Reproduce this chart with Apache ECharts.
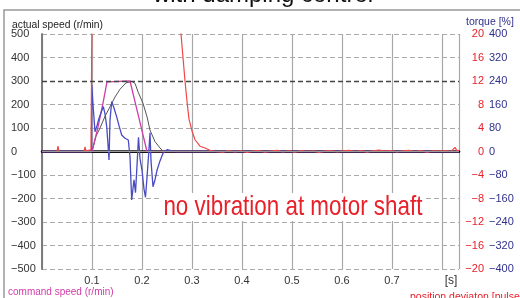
<!DOCTYPE html>
<html>
<head>
<meta charset="utf-8">
<script src="https://cdn.jsdelivr.net/npm/echarts@6/dist/echarts.min.js"></script>
<style>
  html, body {margin:0; padding:0; background:#fff;}
  #myChart {width:520px; height:298px;}
</style>
</head>
<body>
<div id="myChart"></div>
<script type="text/javascript">
  // [time s, r/min]
  var commandSpeed = [
    [0, 0], [0.1, 0], [0.112, 104], [0.122, 206], [0.13, 296], [0.132, 300],
    [0.176, 300], [0.192, 159], [0.21, 0], [0.834, 0]
  ]
  // [time s, r/min]
  var actualSpeed = [
    [0, 0], [0.1, 0], [0.108, 65], [0.116, 100], [0.126, 150], [0.136, 190],
    [0.146, 232], [0.156, 265], [0.168, 292], [0.18, 298], [0.186, 290],
    [0.192, 254], [0.202, 205], [0.21, 148], [0.216, 91], [0.226, 42],
    [0.236, 15], [0.242, 2], [0.25, 0], [0.834, 0]
  ]
  // [time s, torque %]
  var torque = [
    [0, 0], [0.099, 0], [0.0996, 226], [0.102, 160], [0.106, 67], [0.11, 88],
    [0.113, 107], [0.118, 132], [0.1226, 153], [0.126, 128], [0.1294, 85],
    [0.132, 24], [0.134, -29], [0.136, 107], [0.1394, 170], [0.144, 148],
    [0.1494, 118], [0.154, 88], [0.1594, 56], [0.166, 45], [0.1726, 39],
    [0.176, -18], [0.1794, -165], [0.184, -96], [0.187, -140], [0.19, -48],
    [0.193, 48], [0.196, -24], [0.2, -64], [0.204, -128], [0.207, -156],
    [0.21, -88], [0.213, -16], [0.216, 64], [0.218, -32], [0.222, -120],
    [0.226, -96], [0.23, -64], [0.236, -32], [0.242, -6], [0.25, 6],
    [0.26, 2], [0.268, 0], [0.834, 0]
  ]
  // [time s, pulse]
  var posDeviation = [
    [0, 0], [0.03, 0], [0.032, 0.9], [0.034, 0], [0.084, 0], [0.086, 0.8],
    [0.088, 0.1], [0.098, 0.3], [0.0995, 0.5], [0.1005, 30], [0.27, 30],
    [0.274, 24], [0.278, 20], [0.282, 16], [0.286, 12], [0.29, 8.5],
    [0.294, 5.5], [0.3, 3.5], [0.306, 2], [0.316, 0.9], [0.326, 0.6],
    [0.336, 0.2], [0.346, 0], [0.35, 0.1], [0.362, -0.1], [0.374, 0.15],
    [0.386, -0.05], [0.398, 0.1], [0.41, -0.15], [0.422, 0.05], [0.434, 0.15],
    [0.446, -0.1], [0.458, 0.05], [0.47, 0.2], [0.482, -0.05], [0.494, 0.1],
    [0.506, -0.1], [0.518, 0.15], [0.53, 0], [0.542, 0.1], [0.554, -0.15],
    [0.566, 0.05], [0.578, 0.15], [0.59, -0.05], [0.602, 0.1], [0.614, 0.2],
    [0.626, 0], [0.638, 0.15], [0.65, -0.1], [0.662, 0.1], [0.674, 0.25],
    [0.686, 0.05], [0.698, 0.15], [0.71, -0.05], [0.722, 0.1], [0.734, 0.2],
    [0.746, 0], [0.758, 0.15], [0.77, -0.1], [0.782, 0.1], [0.794, 0.05],
    [0.806, 0.15], [0.818, 0], [0.826, 0.7], [0.83, 0.1], [0.834, 0.2]
  ]

  var FONT = '"Liberation Sans", Arial, sans-serif'
  var RED = '#e8202a', BLUE = '#30308c', MAG = '#d03ca8'

  function minus (v) { return String(v).replace('-', '\u2212') }

  var myChart = echarts.init(document.getElementById('myChart'))
  myChart.setOption({
    animation: false,
    textStyle: {fontFamily: FONT},
    grid: {left: 42, right: 61, top: 34, bottom: 29},
    xAxis: [{
      type: 'value', min: 0, max: 0.834, interval: 0.1,
      axisLine: {lineStyle: {color: '#111', width: 2}},
      axisTick: {show: false},
      splitLine: {show: true, lineStyle: {color: '#a8a8a8', width: 1.2}},
      axisLabel: {
        color: '#333', fontSize: 11, margin: 6,
        showMinLabel: false, showMaxLabel: false,
        formatter: function (v) {
          if (Math.abs(v - 0.8) < 1e-6) return '{s|[s]}'
          if (v < 0.05 || v > 0.81) return ''
          return v.toFixed(1)
        },
        rich: {s: {fontSize: 12, color: '#333', padding: [0, 0, 3, 18]}}
      }
    }, {
      // top line of frame
      type: 'value', position: 'top', min: 0, max: 0.834,
      axisLine: {lineStyle: {color: '#111', width: 2.5}},
      axisTick: {show: false}, axisLabel: {show: false}, splitLine: {show: false}
    }],
    yAxis: [{
      type: 'value', min: -500, max: 500, interval: 100,
      axisLine: {show: true, lineStyle: {color: '#333', width: 1.5}},
      axisTick: {show: false},
      splitLine: {lineStyle: {color: '#aaa', type: [5, 3]}},
      axisLabel: {color: '#333', fontSize: 11, align: 'left', margin: 31, formatter: minus}
    }, {
      type: 'value', position: 'right', min: -20, max: 20, interval: 4,
      axisLine: {show: true, lineStyle: {color: '#888', width: 1.5}},
      axisTick: {show: false}, splitLine: {show: false},
      axisLabel: {color: RED, fontSize: 11, align: 'right', margin: 25, formatter: minus}
    }, {
      type: 'value', position: 'right', min: -400, max: 400, interval: 80,
      axisLine: {show: false}, axisTick: {show: false}, splitLine: {show: false},
      axisLabel: {color: BLUE, fontSize: 11, align: 'left', margin: 30, formatter: minus}
    }],
    series: [
      {
        name: 'actual speed', type: 'line', symbol: 'none', data: actualSpeed,
        lineStyle: {color: '#555', width: 1},
        markLine: {
          silent: true, symbol: 'none', label: {show: false},
          data: [
            {yAxis: 300, lineStyle: {color: '#444', type: [5, 3], width: 1.3}},
            {yAxis: 0, lineStyle: {color: '#999', type: 'solid', width: 1}}
          ]
        }
      },
      {
        name: 'command speed', type: 'line', symbol: 'none', data: commandSpeed,
        lineStyle: {color: MAG, width: 1.3}
      },
      {
        name: 'torque', type: 'line', symbol: 'none', yAxisIndex: 2, data: torque,
        lineStyle: {color: '#4a4ac4', width: 1.3}
      },
      {
        name: 'position deviaton', type: 'line', symbol: 'none', yAxisIndex: 1, data: posDeviation,
        lineStyle: {color: '#f04848', width: 1.2}
      }
    ],
    graphic: [
      // outer frame
      {type: 'rect', shape: {x: 4, y: 10, width: 560, height: 320}, style: {fill: 'none', stroke: '#999', lineWidth: 1.5}, z: 0},
      {type: 'text', x: 263, y: 7, style: {text: 'with damping control', font: '24px ' + FONT, fill: '#111', align: 'center', verticalAlign: 'bottom'}},
      {type: 'text', x: 12, y: 25, style: {text: 'actual speed (r/min)', font: '10.3px ' + FONT, fill: '#222', verticalAlign: 'middle'}},
      {type: 'text', x: 466, y: 22, style: {text: 'torque [%]', font: '10.5px ' + FONT, fill: BLUE, verticalAlign: 'middle'}},
      {type: 'text', x: 8, y: 292, style: {text: 'command speed (r/min)', font: '10px ' + FONT, fill: MAG, verticalAlign: 'middle'}},
      {type: 'text', x: 410, y: 297, style: {text: 'position deviaton [pulse]', font: '10.5px ' + FONT, fill: RED, verticalAlign: 'middle'}},
      {
        // narrow lettering in the original, squeeze it
        type: 'text', x: 161, y: 207, z: 100, scaleX: 0.8,
        style: {
          text: 'no vibration at motor shaft', font: '28px ' + FONT,
          fill: RED, verticalAlign: 'middle', backgroundColor: '#fff', padding: [0, 3]
        }
      }
    ]
  })
</script>
</body>
</html>
